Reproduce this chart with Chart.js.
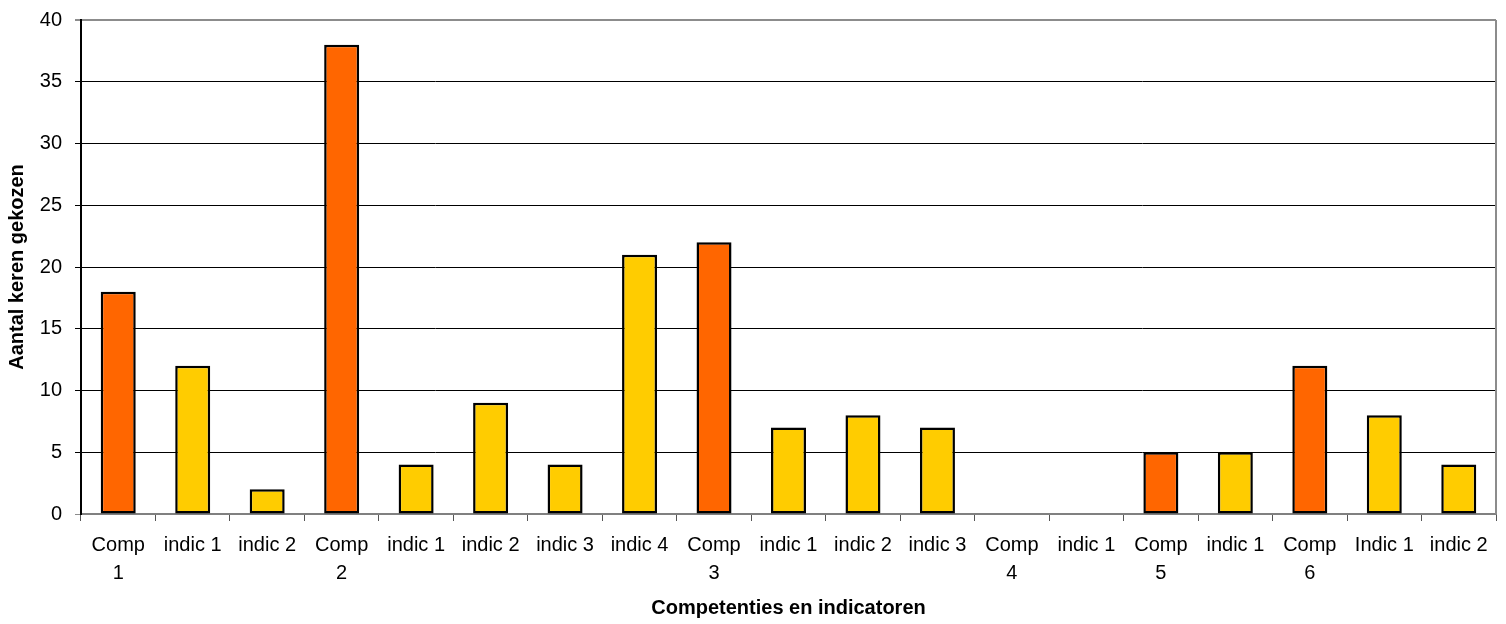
<!DOCTYPE html>
<html>
<head>
<meta charset="utf-8">
<style>
  html, body { margin: 0; padding: 0; background: #fff; }
  #wrap { width: 1506px; height: 624px; }
</style>
<script src="https://cdn.jsdelivr.net/npm/chart.js@4/dist/chart.umd.min.js"></script>
</head>
<body>
<div id="wrap"><canvas id="c" width="1506" height="624"></canvas></div>
<script>
// Categories: competencies and their indicators
const categories = [
  ["Comp", "1"], "indic 1", "indic 2",
  ["Comp", "2"], "indic 1", "indic 2", "indic 3", "indic 4",
  ["Comp", "3"], "indic 1", "indic 2", "indic 3",
  ["Comp", "4"], "indic 1",
  ["Comp", "5"], "indic 1",
  ["Comp", "6"], "Indic 1", "indic 2"
];
// Number of times chosen
const counts = [18, 12, 2, 38, 4, 9, 4, 21, 22, 7, 8, 7, 0, 0, 5, 5, 12, 8, 4];
// Which categories are competencies (true) vs indicators (false)
const isCompetency = [true, false, false, true, false, false, false, false, true, false, false, false, true, false, true, false, true, false, false];
const yTicks = { min: 0, max: 40, step: 5 };

const COMP_COLOR = '#FF6600';
const INDIC_COLOR = '#FFCC00';
const FONT = 'Liberation Sans, Arial, sans-serif';

const frame = {
  id: 'frame',
  afterDraw(chart) {
    const { ctx, chartArea: a } = chart;
    ctx.save();
    ctx.strokeStyle = '#8c8c8c';
    ctx.lineWidth = 2;
    ctx.beginPath();
    ctx.moveTo(a.right, a.top);
    ctx.lineTo(a.right, a.bottom);
    ctx.stroke();
    ctx.restore();
  }
};

new Chart(document.getElementById('c'), {
  type: 'bar',
  data: {
    labels: categories,
    datasets: [{
      data: counts,
      backgroundColor: isCompetency.map(c => c ? COMP_COLOR : INDIC_COLOR),
      borderColor: '#000',
      borderWidth: 2.5,
      borderSkipped: false,
      categoryPercentage: 1,
      barPercentage: 0.47
    }]
  },
  options: {
    responsive: false,
    animation: false,
    devicePixelRatio: 1,
    layout: { padding: { left: 0, top: 20, right: 10, bottom: 0 } },
    plugins: { legend: { display: false }, tooltip: { enabled: false } },
    scales: {
      x: {
        afterFit(s) { s.height = 110; },
        grid: { drawOnChartArea: false, tickLength: 7, color: '#555', lineWidth: 1 },
        border: { display: true, color: '#808080', width: 2 },
        ticks: {
          autoSkip: false, maxRotation: 0, minRotation: 0,
          color: '#000', padding: 10,
          font: { family: FONT, size: 20, lineHeight: 1.4 }
        },
        title: {
          display: true, text: 'Competenties en indicatoren', color: '#000',
          font: { family: FONT, size: 20, weight: 'bold' },
          padding: { top: 0, bottom: 4 }
        }
      },
      y: {
        min: yTicks.min, max: yTicks.max,
        afterFit(s) { s.width = 81; s.paddingTop = 0; s.paddingBottom = 0; },
        grid: {
          color: ctx => (ctx.tick && (ctx.tick.value === 40 || ctx.tick.value === 0)) ? '#8c8c8c' : '#000',
          lineWidth: ctx => (ctx.tick && ctx.tick.value === 40) ? 2 : 1,
          tickLength: 6
        },
        border: { display: true, color: '#000', width: 2 },
        ticks: {
          stepSize: yTicks.step, color: '#000', padding: 13,
          font: { family: FONT, size: 20 }
        },
        title: {
          display: true, text: 'Aantal keren gekozen', color: '#000',
          font: { family: FONT, size: 20, weight: 'bold' },
          padding: { top: 5, bottom: 0 }
        }
      }
    }
  },
  plugins: [frame]
});
</script>
</body>
</html>
